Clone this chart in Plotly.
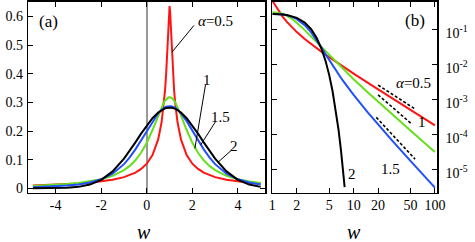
import math
import plotly.graph_objects as go

# ---------------- panel (a): densities vs w (linear axes) ----------------
w_a = [-5, -4.5, -4, -3.5, -3, -2.5, -2, -1.5, -1, -0.75, -0.5, -0.25, 0,
       0.25, 0.5, 0.65, 0.75, 0.8, 0.85, 0.9, 0.95, 0.975, 1, 1.025, 1.05,
       1.1, 1.15, 1.2, 1.25, 1.35, 1.5, 1.75, 2, 2.25, 2.5, 2.75, 3, 3.5, 4,
       4.5, 5]
p_a_05 = [0.0097, 0.0109, 0.0123, 0.0142, 0.0165, 0.0196, 0.0238, 0.0299, 0.0391,
          0.0459, 0.0549, 0.0679, 0.0861,
          0.1161, 0.1708, 0.2308, 0.2956, 0.3411, 0.3999, 0.4763, 0.570, 0.616,
          0.6366,
          0.616, 0.570, 0.4763, 0.3999, 0.3411, 0.2956, 0.2308, 0.1708, 0.1161,
          0.0861, 0.0679, 0.0549, 0.0459, 0.0391, 0.0299, 0.0238, 0.0196, 0.0165]
p_a_10 = [0.0086, 0.0102, 0.0122, 0.0150, 0.0187, 0.0241, 0.0318, 0.0439, 0.0637,
          0.0784, 0.0979, 0.1242, 0.1592,
          0.2037, 0.2546, 0.2836, 0.2996, 0.3061, 0.3113, 0.3152, 0.3175, 0.3181,
          0.3183,
          0.3181, 0.3175, 0.3152, 0.3113, 0.3061, 0.2996, 0.2836, 0.2546, 0.2037,
          0.1592, 0.1242, 0.0979, 0.0784, 0.0637, 0.0439, 0.0318, 0.0241, 0.0187]
p_a_15 = [0.0042, 0.0054, 0.0071, 0.0097, 0.0136, 0.0202, 0.0315, 0.0511, 0.0845,
          0.1080, 0.1361, 0.1681, 0.2020,
          0.2347, 0.2623, 0.2747, 0.2808, 0.2831, 0.2850, 0.2863, 0.2871, 0.2873,
          0.2874,
          0.2873, 0.2871, 0.2863, 0.2850, 0.2831, 0.2808, 0.2747, 0.2623, 0.2347,
          0.2020, 0.1681, 0.1361, 0.1080, 0.0845, 0.0511, 0.0315, 0.0202, 0.0136]
p_a_20 = [0.00003, 0.00015, 0.00054, 0.0018, 0.0052, 0.0132, 0.0297, 0.0591, 0.1038,
          0.1312, 0.1607, 0.1909, 0.2197,
          0.2451, 0.2650, 0.2736, 0.2777, 0.2793, 0.2805, 0.2814, 0.2819, 0.2821,
          0.2821,
          0.2821, 0.2819, 0.2814, 0.2805, 0.2793, 0.2777, 0.2736, 0.2650, 0.2451,
          0.2197, 0.1909, 0.1607, 0.1312, 0.1038, 0.0591, 0.0297, 0.0132, 0.0052]

# ---------------- panel (b): same densities, log-log ----------------
w_b = [1, 1.05, 1.1, 1.15, 1.2, 1.25, 1.35, 1.5, 1.75, 2, 2.5, 3, 3.5, 4, 4.5,
       5, 5.5, 6, 6.5, 7, 7.5, 7.75, 10, 15, 20, 30, 50, 70, 100]
p_b_05 = [0.6366, 0.570, 0.4763, 0.3999, 0.3411, 0.2956, 0.2308, 0.1708, 0.1161,
          0.0861, 0.0549, 0.0391, 0.0299, 0.0238, 0.0196, 0.0165, 0.0142, 0.0123,
          0.0109, 0.0097, 0.00873, 0.00830, 0.00563, 0.00306, 0.00200, 0.00110,
          0.000518, 0.000316, 0.000187]
p_b_10 = [0.3183, 0.3175, 0.3152, 0.3113, 0.3061, 0.2996, 0.2836, 0.2546, 0.2037,
          0.1592, 0.0979, 0.0637, 0.0439, 0.0318, 0.0241, 0.0187, 0.0150, 0.0122,
          0.0102, 0.0086, 0.00736, 0.00684, 0.00388, 0.00162, 0.000879, 0.000378,
          0.0001325, 0.0000668, 0.0000325]
p_b_15 = [0.2874, 0.2871, 0.2863, 0.2850, 0.2831, 0.2808, 0.2747, 0.2623, 0.2347,
          0.2020, 0.1361, 0.0845, 0.0511, 0.0315, 0.0202, 0.0136, 0.0097, 0.0071,
          0.0054, 0.0042, 0.00337, 0.00304, 0.00139, 0.000434, 0.000198, 0.0000674,
          0.0000180, 0.0000076, 0.0000031]
p_b_20 = [0.2821, 0.2819, 0.2814, 0.2805, 0.2793, 0.2777, 0.2736, 0.2650, 0.2451,
          0.2197, 0.1607, 0.1038, 0.0591, 0.0297, 0.0132, 0.00517, 0.00179, 0.000545,
          0.000147, 0.0000348, 0.0000073, 0.0000032, None, None, None, None, None,
          None, None]

# dashed power-law guides in panel (b)
guide_w_05 = [20, 57]
guide_p_05 = [0.00264, 0.000548]
guide_w_10 = [20, 52]
guide_p_10 = [0.00138, 0.000204]
guide_w_15 = [19, 57]
guide_p_15 = [0.000316, 0.0000203]

alpha_labels = ["0.5", "1", "1.5", "2"]
colors = ["#ff1414", "#66e01a", "#2050ff", "#000000"]

ticks_a_x = [-4, -2, 0, 2, 4]
ticks_a_y = [0, 0.1, 0.2, 0.3, 0.4, 0.5, 0.6]
ticks_b_x = [1, 2, 5, 10, 20, 50, 100]
ticks_b_y = [1e-1, 1e-2, 1e-3, 1e-4, 1e-5]
ticks_b_y_text = ["10<sup>-1</sup>", "10<sup>-2</sup>", "10<sup>-3</sup>",
                  "10<sup>-4</sup>", "10<sup>-5</sup>"]

SERIF = "Liberation Serif"

fig = go.Figure()
for p, c in zip([p_a_05, p_a_10, p_a_15, p_a_20], colors):
    fig.add_trace(go.Scatter(x=w_a, y=p, mode="lines", xaxis="x", yaxis="y",
                             line=dict(color=c, width=2), hoverinfo="skip"))
for p, c in zip([p_b_05, p_b_10, p_b_15, p_b_20], colors):
    fig.add_trace(go.Scatter(x=w_b, y=p, mode="lines", xaxis="x2", yaxis="y2",
                             line=dict(color=c, width=2), connectgaps=False,
                             hoverinfo="skip"))
for gw, gp in [(guide_w_05, guide_p_05), (guide_w_10, guide_p_10),
               (guide_w_15, guide_p_15)]:
    fig.add_trace(go.Scatter(x=gw, y=gp, mode="lines", xaxis="x2", yaxis="y2",
                             line=dict(color="black", width=1.6, dash="3px,2px"),
                             hoverinfo="skip"))

tick_font = dict(family=SERIF, size=14, color="black")
axis_common = dict(showline=True, linecolor="black", linewidth=1.5,
                   mirror="ticks", ticks="inside", ticklen=5, tickwidth=1,
                   tickcolor="black", showgrid=False, tickfont=tick_font)

yd = [0.1942, 0.9959]
fig.update_layout(
    width=475, height=242,
    margin=dict(l=0, r=0, t=0, b=0),
    paper_bgcolor="white", plot_bgcolor="white",
    showlegend=False,
    font=dict(family=SERIF, color="black"),
    xaxis=dict(domain=[0.0526, 0.5642], range=[-5.2, 5.2], anchor="y",
               tickvals=ticks_a_x, ticktext=[str(v) for v in ticks_a_x],
               zeroline=True, zerolinecolor="#999999", zerolinewidth=1.5,
               ticklabelstandoff=-1, **axis_common),
    yaxis=dict(domain=yd, range=[-0.0155, 0.651], anchor="x",
               tickvals=ticks_a_y, ticktext=["0"] + [str(v) for v in ticks_a_y[1:]],
               zeroline=False, ticklabelstandoff=1, **axis_common),
    xaxis2=dict(domain=[0.5796, 0.9358], type="log", range=[0, 2.029], anchor="y2",
                tickvals=ticks_b_x, ticktext=[str(v) for v in ticks_b_x],
                zeroline=False, ticklabelstandoff=-1, **axis_common),
    yaxis2=dict(domain=yd, type="log", range=[-5.654, -0.205], anchor="x2",
                side="right", tickvals=ticks_b_y, ticktext=ticks_b_y_text,
                zeroline=False, ticklabelstandoff=4, ticklabelshift=3,
                **axis_common),
)

# axis titles (w) under each panel
for xp in (0.303, 0.7558):
    fig.add_annotation(x=xp, y=7.5 / 242, xref="paper", yref="paper",
                       text="<i>w</i>", xanchor="center", yanchor="middle",
                       showarrow=False,
                       font=dict(family=SERIF, size=20, color="black"))
# panel labels
fig.add_annotation(x=0.0968, y=1 - 20.5 / 242, xref="paper", yref="paper",
                   text="(a)", xanchor="center", yanchor="middle", showarrow=False,
                   font=dict(family=SERIF, size=17, color="black"))
fig.add_annotation(x=0.888, y=1 - 20 / 242, xref="paper", yref="paper",
                   text="(b)", xanchor="center", yanchor="middle", showarrow=False,
                   font=dict(family=SERIF, size=17, color="black"))

font_lab = dict(family=SERIF, size=15, color="black")
# panel (a) curve labels with leader lines
lab_a_pos = [(3.01, 0.586), (2.63, 0.380), (3.22, 0.249), (3.82, 0.1495)]
lead_a = [((2.07, 0.569), (1.11, 0.476)), ((2.58, 0.3625), (2.11, 0.139)),
          ((3.01, 0.232), (2.37, 0.152)), ((3.70, 0.132), (3.14, 0.092))]
for i, (lab, (lx, ly)) in enumerate(zip(alpha_labels, lab_a_pos)):
    txt = "<i>α</i>=" + lab if i == 0 else lab
    fig.add_annotation(x=lx, y=ly, xref="x", yref="y", text=txt, showarrow=False,
                       xanchor="center", yanchor="middle", font=font_lab)
for (x0, y0), (x1, y1) in lead_a:
    fig.add_shape(type="line", xref="x", yref="y", x0=x0, y0=y0, x1=x1, y1=y1,
                  line=dict(color="black", width=1))

# panel (b) curve labels
lab_b_pos = [(54.3, 0.0031), (69.7, 0.000233), (28.8, 1.05e-5), (9.54, 7.57e-6)]
for i, (lab, (lx, ly)) in enumerate(zip(alpha_labels, lab_b_pos)):
    txt = "<i>α</i>=" + lab if i == 0 else lab
    fig.add_annotation(x=math.log10(lx), y=math.log10(ly), xref="x2", yref="y2",
                       text=txt, showarrow=False, xanchor="center",
                       yanchor="middle", font=font_lab)

# the page body has a default 8px margin; remove it so the figure sits at (0, 0)
fig.write_html("out.html",
               config={"displayModeBar": False, "staticPlot": True},
               post_script="document.body.style.margin='0';"
                           "document.body.style.overflow='hidden';")
